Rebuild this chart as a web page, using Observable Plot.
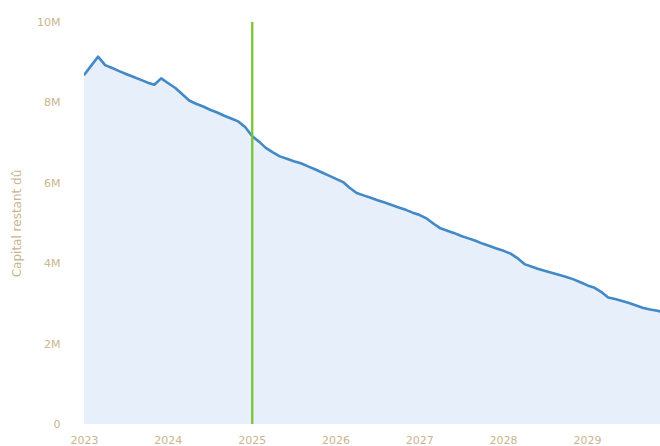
<!DOCTYPE html>
<html>
<head>
<meta charset="utf-8">
<script src="https://cdn.jsdelivr.net/npm/d3@7"></script>
<script src="https://cdn.jsdelivr.net/npm/@observablehq/plot@0.6"></script>
<style>
  html, body { margin: 0; padding: 0; background: #ffffff; }
  #chart svg { display: block; }
</style>
</head>
<body>
<div id="chart"></div>
<script>
// Outstanding loan capital, one value per month from January 2023 (millions)
const startMonth = "2023-01";
const capitalMillions = [
  8.71, 8.94, 9.15, 8.94, 8.87, 8.79, 8.72, 8.65, 8.58, 8.51, 8.45, 8.61,
  8.49, 8.37, 8.22, 8.06, 7.98, 7.91, 7.83, 7.76, 7.68, 7.61, 7.54, 7.40,
  7.17, 7.03, 6.88, 6.77, 6.67, 6.61, 6.55, 6.50, 6.42, 6.35, 6.27, 6.19,
  6.11, 6.03, 5.89, 5.76, 5.70, 5.64, 5.58, 5.52, 5.46, 5.40, 5.34, 5.27,
  5.21, 5.12, 5.00, 4.88, 4.82, 4.76, 4.69, 4.63, 4.57, 4.50, 4.44, 4.38,
  4.32, 4.25, 4.14, 3.99, 3.93, 3.87, 3.82, 3.77, 3.72, 3.67, 3.61, 3.54,
  3.46, 3.40, 3.30, 3.16, 3.12, 3.07, 3.02, 2.96, 2.90, 2.86, 2.83, 2.79
];
// Today marker
const markerDate = "2025-01-01";
// Axis settings
const yTicks = [0, 2e6, 4e6, 6e6, 8e6, 10e6];
const yTickLabels = ["0", "2M", "4M", "6M", "8M", "10M"];
const yLabel = "Capital restant dû";
const xDomain = ["2023-01-01", "2029-11-15"];

const start = new Date(startMonth + "-01T00:00:00");
const data = capitalMillions.map((v, i) => ({
  date: d3.timeMonth.offset(start, i),
  capital: v * 1e6
}));

const axisColor = "#c9b58f";

const chart = Plot.plot({
  width: 660,
  height: 446,
  marginLeft: 84,
  marginRight: 0,
  marginTop: 22,
  marginBottom: 22,
  style: { fontFamily: "DejaVu Sans, sans-serif", fontSize: "11px", background: "#ffffff" },
  x: {
    type: "utc",
    domain: xDomain.map(d => new Date(d + "T00:00:00")),
    label: null
  },
  y: {
    domain: [0, 10e6],
    label: null
  },
  marks: [
    Plot.areaY(data, { x: "date", y: "capital", fill: "#e7effa", clip: true }),
    Plot.lineY(data, { x: "date", y: "capital", stroke: "#4189c7", strokeWidth: 2.6, clip: true }),
    Plot.ruleX([new Date(markerDate + "T00:00:00")], { stroke: "#78c630", strokeWidth: 2.3 }),
    Plot.axisY(yTicks, {
      tickSize: 0,
      tickPadding: 24,
      tickFormat: d => yTickLabels[yTicks.indexOf(d)],
      fill: axisColor,
      label: null
    }),
    Plot.axisX({
      ticks: d3.utcYear.every(1),
      tickFormat: d3.utcFormat("%Y"),
      tickSize: 0,
      tickPadding: 12,
      fill: axisColor,
      label: null
    }),
    Plot.text([yLabel], {
      frameAnchor: "left",
      textAnchor: "middle",
      dx: -67,
      rotate: -90,
      fill: axisColor,
      fontSize: 12
    })
  ]
});

document.getElementById("chart").appendChild(chart);
</script>
</body>
</html>
